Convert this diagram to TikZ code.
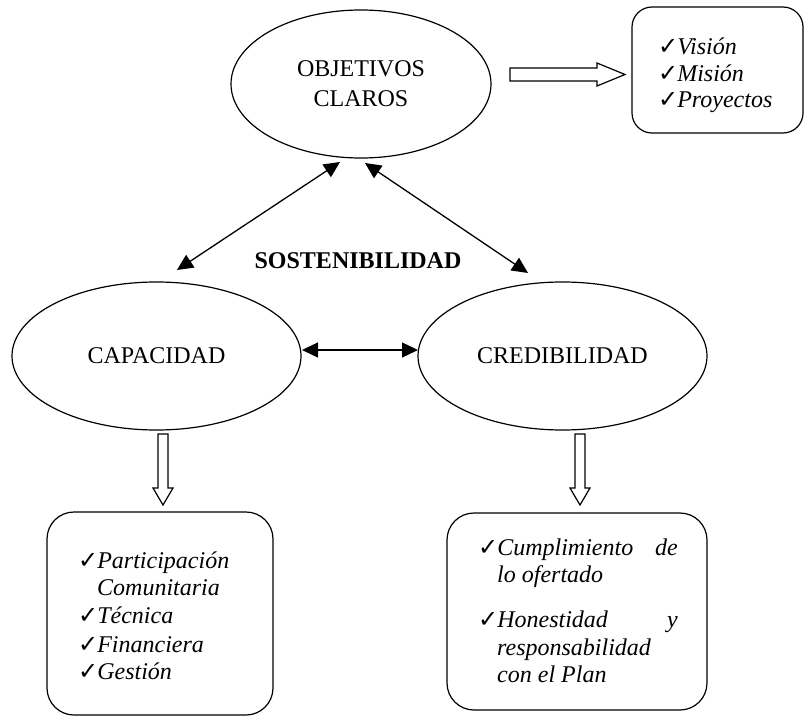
\documentclass[tikz,border=0pt]{standalone}
\usepackage{fontspec}
\setmainfont{Liberation Serif}
\newfontfamily\dejavu{DejaVu Sans}
\usetikzlibrary{shapes.geometric,arrows.meta}
\newcommand{\ck}{{\upshape\dejavu\fontsize{24}{24}\selectfont ✓}\kern-1pt}
\begin{document}
\begin{tikzpicture}[x=1pt,y=-1pt,
  oval/.style={ellipse, draw, line width=1.2pt, inner sep=0pt, align=center,
    font=\fontsize{24}{30}\selectfont},
  listbox/.style={draw, line width=1.2pt, inner sep=0pt},
  item/.style={anchor=base west, inner sep=0pt, font=\fontsize{24}{28}\selectfont\itshape},
  itemr/.style={anchor=base east, inner sep=0pt, font=\fontsize{24}{28}\selectfont\itshape},
  dbl/.style={{Triangle[length=16pt,width=15pt]}-{Triangle[length=16pt,width=15pt]}, line width=1.3pt},
  hollow/.style={draw, line width=1.2pt, fill=white, line join=miter}]
\useasboundingbox (0,0) rectangle (804,717);

% ellipses
\node[oval, minimum width=260, minimum height=148] (obj) at (361,84) {OBJETIVOS\\CLAROS};
\node[oval, minimum width=289, minimum height=148] (cap) at (156.5,356) {CAPACIDAD};
\node[oval, minimum width=289, minimum height=148] (cred) at (562.5,356) {CREDIBILIDAD};

% label
\node[anchor=base, inner sep=0pt, font=\fontsize{24}{28}\selectfont\bfseries] (sost) at (358,268) {SOSTENIBILIDAD};

% boxes
\node[listbox, rounded corners=20pt, minimum width=171, minimum height=126] (vbox) at (717.5,70) {};
\node[listbox, rounded corners=27pt, minimum width=226, minimum height=203] (lbox) at (160,613.5) {};
\node[listbox, rounded corners=27pt, minimum width=260, minimum height=197] (rbox) at (577,611.5) {};

% top-right list
\node[item] (v1) at (658,55) {\ck Visión};
\node[item] (v2) at (658,82) {\ck Misión};
\node[item] (v3) at (658,108) {\ck Proyectos};

% bottom-left list
\node[item] (l1) at (78,568) {\ck Participación};
\node[item] (l2) at (97,595) {Comunitaria};
\node[item] (l3) at (78,623) {\ck Técnica};
\node[item] (l4) at (78,652) {\ck Financiera};
\node[item] (l5) at (78,679) {\ck Gestión};

% bottom-right list
\node[item] (r1) at (478,555) {\ck Cumplimiento};
\node[itemr] (r1b) at (678,555) {de};
\node[item] (r2) at (497,582) {lo ofertado};
\node[item] (r3) at (478,627) {\ck Honestidad};
\node[itemr] (r3b) at (678,627) {y};
\node[item] (r4) at (497,655) {responsabilidad};
\node[item] (r5) at (497,682) {con el Plan};

% double-headed connectors
\coordinate (oL) at (340,162);
\coordinate (oR) at (365,163);
\coordinate (cT) at (177,270);
\coordinate (rT) at (528,273);
\coordinate (cE) at (302,350);
\coordinate (rW) at (418,350);
\draw[dbl] (cT) -- (oL);
\draw[dbl] (oR) -- (rT);
\draw[dbl] (cE) -- (rW);

% hollow block arrows
\coordinate (ha) at (510,74.5);
\coordinate (d1) at (163,434);
\coordinate (d2) at (580,434);
\draw[hollow, shift={(ha)}] (0,-6.5) -- (87,-6.5) -- (87,-11.5) -- (115,0) -- (87,11.5) -- (87,6.5) -- (0,6.5) -- cycle;
\draw[hollow, shift={(d1)}] (-5,0) -- (5,0) -- (5,54) -- (10,54) -- (0,71) -- (-10,54) -- (-5,54) -- cycle;
\draw[hollow, shift={(d2)}] (-5,0) -- (5,0) -- (5,54) -- (10,54) -- (0,71) -- (-10,54) -- (-5,54) -- cycle;
\end{tikzpicture}
\end{document}
